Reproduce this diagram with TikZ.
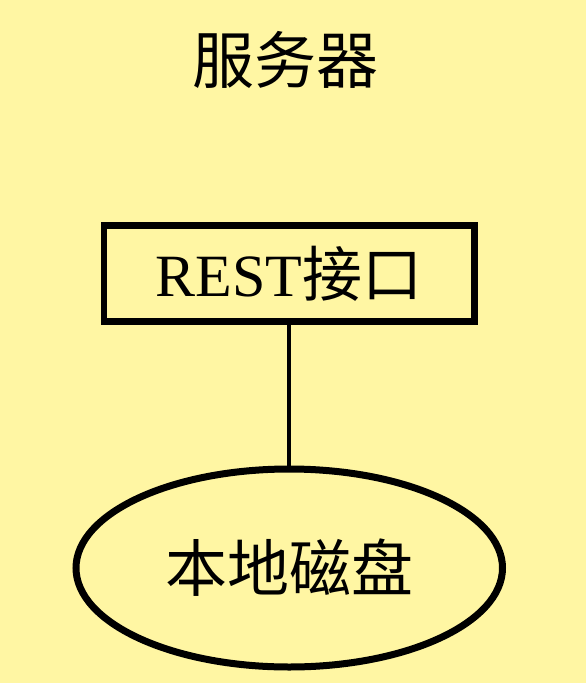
\documentclass[tikz,border=0pt]{standalone}
\usepackage{fontspec}
\setmainfont{Liberation Serif}
\newfontfamily\cjk{Noto Sans CJK SC}
\usetikzlibrary{shapes.geometric}

\definecolor{bgyellow}{RGB}{255,246,163}

\begin{document}
\begin{tikzpicture}[x=1pt,y=-1pt]
%%%%%%%%%%%%%%%%%%%
% Background

\useasboundingbox (0,0) rectangle (586,683);
\fill [bgyellow] (0,0) rectangle (586,683);

%%%%%%%%%%%%%%%%%%%
% The server

\node (title) at (285,60) {\fontsize{62}{64}\selectfont\cjk 服务器};

\node [draw, line width=6.5pt, rectangle, inner sep=0pt, minimum width=370.5pt, minimum height=96pt] (rest) at (289.25,273.5) {\fontsize{60}{62}\selectfont REST\cjk 接口};

\node [draw, line width=7pt, ellipse, inner sep=0pt, minimum width=426.5pt, minimum height=198pt] (disk) at (289.25,568) {\fontsize{62}{64}\selectfont\cjk 本地磁盘};

%%%%%%%%%%%%%%%%%%%
% LINK

\draw [line width=4pt] (rest) -- (disk);

\end{tikzpicture}
\end{document}
